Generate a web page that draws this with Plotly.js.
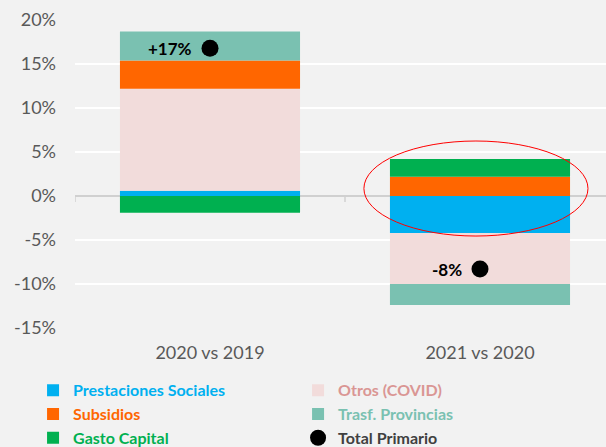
<!DOCTYPE html>
<html>
<head>
<meta charset="utf-8">
<script src="https://cdn.plot.ly/plotly-3.0.1.min.js"></script>
<style>html,body{margin:0;padding:0;background:#F2F2F2;}#chart{width:606px;height:447px;}</style>
</head>
<body>
<div id="chart"></div>
<script>
// ---- data ----
const categories = ["2020 vs 2019", "2021 vs 2020"];
const prestaciones = [0.6, -4.2];
const otros = [11.6, -5.8];
const subsidios = [3.2, 2.2];
const trasfProvincias = [3.3, -2.4];
const gastoCapital = [-1.9, 2.0];
const totalPrimario = [16.8, -8.3];
const totalLabels = ["+17%", "-8%"];
const yTicks = [-15, -10, -5, 0, 5, 10, 15, 20];
const yTickLabels = ["-15%", "-10%", "-5%", "0%", "5%", "10%", "15%", "20%"];
// highlight ellipse (data coordinates)
const ellipse = {x0: 0.57, x1: 1.40, y0: -4.55, y1: 6.25};

const FONT = "Lato, 'Open Sans', sans-serif";
const colors = {
  prest: "#00B0F0", otros: "#F2DCDB", subs: "#FF6600",
  trasf: "#7AC1B1", gasto: "#00B050"
};
function nm(t, c) { return '<span style="color:' + c + '"><b>' + t + '</b></span>'; }

const barCommon = {type: "bar", x: categories, width: 0.667, hoverinfo: "skip"};
const traces = [
  Object.assign({}, barCommon, {y: prestaciones, name: nm("Prestaciones Sociales", "#00B0F0"), marker: {color: colors.prest, line: {width: 0}}}),
  Object.assign({}, barCommon, {y: otros, name: nm("Otros (COVID)", "#DA9694"), marker: {color: colors.otros, line: {width: 0}}}),
  Object.assign({}, barCommon, {y: subsidios, name: nm("Subsidios", "#FF6600"), marker: {color: colors.subs, line: {width: 0}}}),
  Object.assign({}, barCommon, {y: trasfProvincias, name: nm("Trasf. Provincias", "#7AC1B1"), marker: {color: colors.trasf, line: {width: 0}}}),
  Object.assign({}, barCommon, {y: gastoCapital, name: nm("Gasto Capital", "#00B050"), marker: {color: colors.gasto, line: {width: 0}}}),
  {type: "scatter", mode: "markers", x: categories, y: totalPrimario, name: nm("Total Primario", "#404040"),
   marker: {color: "#000000", size: 17}, hoverinfo: "skip"}
];

const annotations = categories.map((c, i) => ({
  x: c, y: totalPrimario[i], xref: "x", yref: "y", text: "<b>" + totalLabels[i] + "</b>",
  showarrow: false, xanchor: "right", xshift: -16, font: {family: FONT, size: 17, color: "#000000"}
}));

const layout = {
  width: 606, height: 447,
  paper_bgcolor: "#F2F2F2", plot_bgcolor: "#F2F2F2",
  margin: {l: 75, r: 0, t: 20, b: 119, autoexpand: false},
  barmode: "relative",
  showlegend: true,
  font: {family: FONT},
  xaxis: {
    type: "category", range: [-0.5, 1.4667], showgrid: false, zeroline: false,
    showline: false, ticks: "", tickfont: {family: FONT, size: 18, color: "#595959"},
    ticklabelstandoff: 12, fixedrange: true
  },
  yaxis: {
    range: [-15, 20], tickvals: yTicks, ticktext: yTickLabels,
    showgrid: true, gridcolor: "#FFFFFF", gridwidth: 1.5,
    zeroline: true, zerolinecolor: "#D0D0D0", zerolinewidth: 1.5,
    showline: false, ticks: "", tickfont: {family: FONT, size: 18, color: "#595959"},
    ticklabelstandoff: 18, fixedrange: true
  },
  legend: {
    orientation: "h", x: -0.079, xanchor: "left", y: -0.147, yanchor: "top",
    entrywidth: 220, entrywidthmode: "pixels", traceorder: "normal",
    font: {family: FONT, size: 16}, bgcolor: "rgba(0,0,0,0)", itemclick: false, itemdoubleclick: false
  },
  annotations: annotations,
  shapes: [
    {type: "circle", xref: "x", yref: "y", x0: ellipse.x0, x1: ellipse.x1, y0: ellipse.y0, y1: ellipse.y1,
     line: {color: "#FF0000", width: 1}, fillcolor: "rgba(0,0,0,0)"},
    {type: "line", xref: "x", yref: "y", ysizemode: "pixel", yanchor: 0, x0: -0.5, x1: -0.5, y0: 0, y1: -6,
     line: {color: "#D0D0D0", width: 1.5}},
    {type: "line", xref: "x", yref: "y", ysizemode: "pixel", yanchor: 0, x0: 0.5, x1: 0.5, y0: 0, y1: -6,
     line: {color: "#D0D0D0", width: 1.5}}
  ],
  hovermode: false
};

Plotly.newPlot("chart", traces, layout, {displayModeBar: false, staticPlot: true});
</script>
</body>
</html>
